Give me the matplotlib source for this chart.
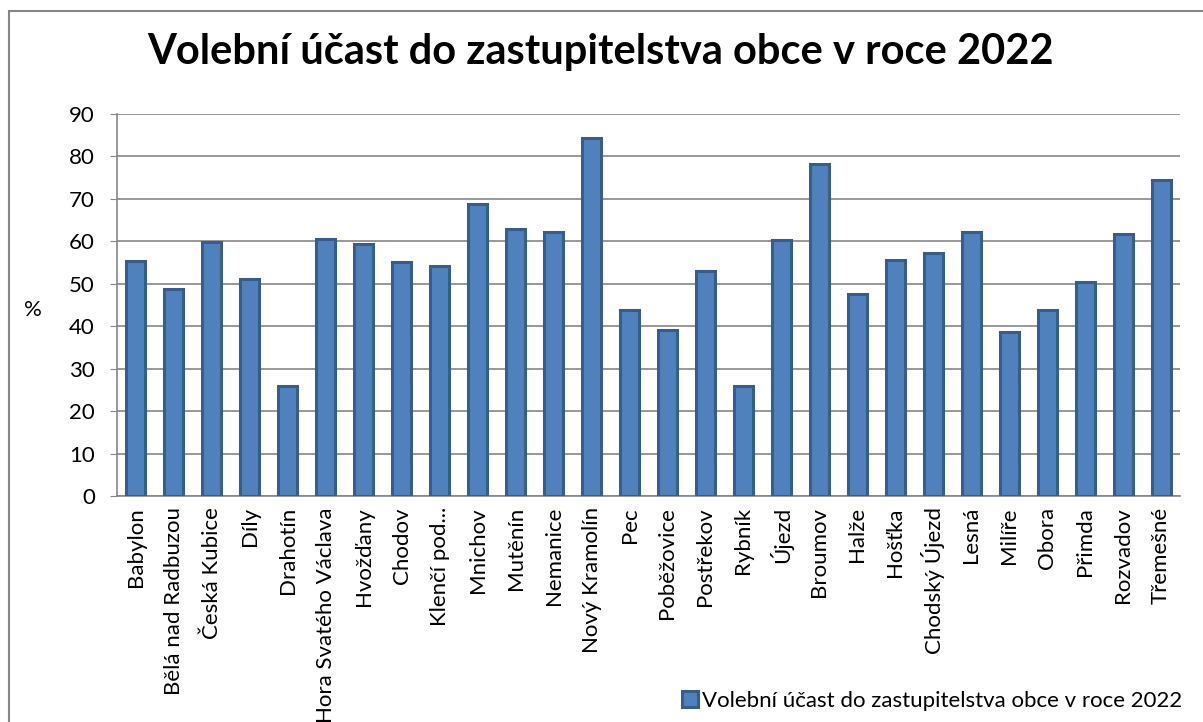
import matplotlib
matplotlib.use("Agg")
import matplotlib.pyplot as plt
from matplotlib.patches import Rectangle

plt.rcParams['font.family'] = ['Lato', 'DejaVu Sans']

obce = ['Babylon', 'Bělá nad Radbuzou', 'Česká Kubice', 'Díly', 'Drahotín',
        'Hora Svatého Václava', 'Hvožďany', 'Chodov', 'Klenčí pod...', 'Mnichov',
        'Mutěnín', 'Nemanice', 'Nový Kramolín', 'Pec', 'Poběžovice', 'Postřekov',
        'Rybník', 'Újezd', 'Broumov', 'Halže', 'Hošťka', 'Chodský Újezd', 'Lesná',
        'Milíře', 'Obora', 'Přimda', 'Rozvadov', 'Třemešné']
ucast = [55.4, 48.7, 59.9, 51.1, 25.9, 60.6, 59.4, 55.1, 54.1, 68.9,
         62.9, 62.1, 84.3, 43.8, 39.0, 52.9, 26.0, 60.2, 78.3, 47.5,
         55.5, 57.2, 62.2, 38.7, 43.8, 50.4, 61.8, 74.5]
yticks = list(range(0, 91, 10))
nazev = 'Volební účast do zastupitelstva obce v roce 2022'

fill_c = '#4F81BD'
edge_c = '#385D8A'
grid_c = '#868686'

fig = plt.figure(figsize=(12.03, 7.22), dpi=100)
ax = fig.add_axes([117/1203, 1 - 496/722, 1063/1203, 382/722])

x = range(len(obce))
ax.bar(x, ucast, width=0.5, color=fill_c, edgecolor=edge_c, linewidth=2.2,
       label=nazev, zorder=3)

ax.set_xlim(-0.5, len(obce) - 0.5)
ax.set_ylim(0, 90)
ax.set_yticks(yticks)
ax.set_xticks(list(x))
ax.set_xticklabels(obce, rotation=90, fontsize=16)
ax.tick_params(axis='y', labelsize=16, length=5, color=grid_c, pad=11)
ax.tick_params(axis='x', length=0, pad=8)
ax.yaxis.grid(True, color=grid_c, linewidth=1.2, zorder=0)
for s in ['top', 'right']:
    ax.spines[s].set_visible(False)
ax.spines['left'].set_color(grid_c)
ax.spines['bottom'].set_color(grid_c)
ax.spines['left'].set_linewidth(1.2)
ax.spines['bottom'].set_linewidth(1.2)

fig.text(33/1203, 1 - 310/722, '%', fontsize=16, ha='center', va='center')
fig.text(600/1203, 1 - 52/722, nazev, fontsize=30, fontweight='bold',
         ha='center', va='center')

fig.legend(loc='lower right', bbox_to_anchor=(1182/1203, 1 - 711/722),
           fontsize=16, frameon=False, handlelength=0.75, handleheight=0.75,
           handletextpad=0.15, borderpad=0, borderaxespad=0)

# rámeček grafu
fig.patches.append(Rectangle((8.5/1203, -0.1), 1.2, 1 - 11/722 + 0.1,
                             transform=fig.transFigure, fill=False,
                             edgecolor=grid_c, linewidth=1.5))

fig.savefig('out.png', dpi=100)
